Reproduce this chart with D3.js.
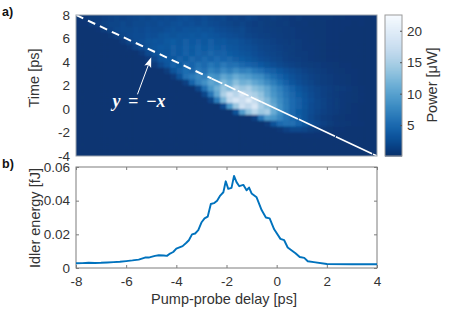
<!DOCTYPE html>
<html>
<head>
<meta charset="utf-8">
<script src="https://cdn.jsdelivr.net/npm/d3@7"></script>
<style>
    html, body { margin: 0; padding: 0; background: #fff; }
    svg { display: block; font-family: "Liberation Sans", sans-serif; }
    .tick text { fill: #333; font-size: 13.5px; }
</style>
</head>
<body>
<div id="chart"></div>
<script>
// Panel a) power in uW, one row per 0.5 ps (top row 7.75 ps), one column per 0.25 ps (first column -7.875 ps)
const heatRows = [
    [.7,.9,1.1,1.2,1.5,1.6,1.8,1.7,1.9,2.0,2.2,2.0,2.4,2.2,2.5,2.3,2.6,2.8,2.5,2.3,2.6,2.2,2.0,2.1,1.7,1.8,1.5,1.9,1.6,1.3,1.2,1.4,1.1,1.0,.9,1.0,.8,.8,.7,.8,.7,.6,.7,.6,.6,.6,.5,.6],
    [.6,.6,1.0,1.3,1.6,1.8,1.8,2.1,1.9,2.2,2.1,2.4,2.2,2.6,2.4,2.7,2.9,2.6,2.8,2.5,2.7,2.4,2.3,2.0,1.9,1.6,1.8,1.5,1.3,1.4,1.2,1.1,1.0,1.1,.9,.8,.9,.7,.7,.7,.6,.6,.6,.6,.5,.6,.5,.5],
    [.5,.5,.5,.6,1.1,1.7,2.0,2.2,2.1,2.4,2.3,2.6,2.5,2.4,2.8,3.0,2.8,3.1,3.0,3.2,2.9,3.0,2.6,2.5,2.2,2.0,2.1,1.7,1.5,1.4,1.3,1.2,1.1,1.0,1.0,.9,.8,.8,.7,.7,.6,.6,.6,.5,.5,.5,.5,.5],
    [.5,.5,.5,.5,.5,.7,1.4,2.0,2.3,2.5,2.4,2.8,2.6,3.0,3.2,3.0,3.4,3.3,3.5,3.3,3.6,3.2,3.1,2.8,2.6,2.4,2.2,1.9,1.7,1.5,1.4,1.3,1.2,1.0,1.0,.9,.9,.8,.7,.7,.6,.6,.5,.5,.5,.5,.5,.5],
    [.5,.5,.5,.5,.5,.5,.5,1.0,1.8,2.4,2.6,3.0,3.2,3.1,3.5,3.8,3.4,4.0,3.6,3.9,3.5,4.0,3.4,3.5,3.0,3.0,2.7,2.4,2.0,1.8,1.7,1.5,1.3,1.2,1.1,1.0,.9,.8,.8,.7,.6,.6,.5,.5,.5,.5,.5,.5],
    [.5,.5,.5,.5,.5,.5,.5,.5,.8,1.6,2.5,3.0,3.2,3.6,3.4,4.0,3.6,4.2,3.8,4.4,3.8,4.2,3.8,3.9,3.4,3.2,2.9,2.7,2.4,2.0,1.9,1.7,1.5,1.3,1.2,1.0,.9,.9,.8,.7,.6,.6,.5,.5,.5,.5,.5,.5],
    [.5,.5,.5,.5,.5,.5,.5,.5,.5,.5,1.0,2.2,3.0,3.5,3.2,4.0,3.6,4.4,3.8,4.6,4.0,4.8,4.2,4.4,3.8,3.6,3.2,3.0,2.6,2.3,2.0,1.8,1.6,1.4,1.2,1.0,1.0,.9,.8,.7,.6,.6,.5,.5,.5,.5,.5,.5],
    [.5,.5,.5,.5,.5,.5,.5,.5,.5,.5,.5,.9,2.0,3.2,3.6,3.4,4.4,3.8,4.8,4.2,5.0,4.4,5.2,4.6,4.8,4.0,3.8,3.4,3.0,2.6,2.4,2.0,1.8,1.5,1.3,1.2,1.0,.9,.8,.7,.6,.6,.5,.5,.5,.5,.5,.5],
    [.5,.5,.5,.5,.5,.5,.5,.5,.5,.5,.5,.5,1.0,2.2,3.2,4.4,3.8,5.0,4.6,5.8,5.0,6.2,5.4,6.4,5.6,5.8,5.0,4.6,4.0,3.6,3.0,2.6,2.2,1.9,1.6,1.4,1.2,1.1,1.0,.9,.8,.7,.6,.6,.5,.5,.5,.5],
    [.5,.5,.5,.5,.5,.5,.5,.5,.5,.5,.5,.5,.5,.5,1.2,3.0,4.2,5.4,4.8,6.4,5.6,7.2,6.4,7.8,6.8,8.0,7.0,7.4,6.2,5.6,4.6,4.0,3.4,2.8,2.4,2.0,1.7,1.4,1.2,1.0,.9,.8,.7,.6,.6,.5,.5,.5],
    [.5,.5,.5,.5,.5,.5,.5,.5,.5,.5,.5,.5,.5,.5,.5,1.0,3.0,5.5,6.5,7.5,7.0,9.0,8.5,10.5,9.5,11.0,10.0,9.5,8.5,8.0,6.5,5.4,4.4,3.6,2.9,2.4,2.0,1.7,1.4,1.2,1.0,.9,.8,.7,.6,.5,.5,.5],
    [.5,.5,.5,.5,.5,.5,.5,.5,.5,.5,.5,.5,.5,.5,.5,.5,.5,1.5,4.5,7.0,8.5,10.5,9.5,12.5,11.0,13.0,11.5,12.0,10.5,9.5,8.0,6.8,5.4,4.2,3.2,2.6,2.1,1.8,1.4,1.2,1.0,.9,.8,.7,.6,.5,.5,.5],
    [.5,.5,.5,.5,.5,.5,.5,.5,.5,.5,.5,.5,.5,.5,.5,.5,.5,.5,.5,2.0,5.5,9.0,11.5,14.0,12.5,15.5,14.0,15.0,13.0,12.0,10.5,8.5,7.0,5.6,4.4,3.4,2.7,2.2,1.8,1.5,1.3,1.1,1.0,.9,.7,.6,.5,.5],
    [.5,.5,.5,.5,.5,.5,.5,.5,.5,.5,.5,.5,.5,.5,.5,.5,.5,.5,.5,.5,2.0,6.0,10.5,15.0,18.0,16.0,18.5,16.0,15.0,13.5,11.0,9.0,7.5,6.0,4.8,3.8,3.0,2.4,1.9,1.5,1.2,1.0,.9,.8,.7,.6,.5,.5],
    [.5,.5,.5,.5,.5,.5,.5,.5,.5,.5,.5,.5,.5,.5,.5,.5,.5,.5,.5,.5,.5,1.8,6.5,12.0,17.0,19.0,17.5,20.0,17.0,14.5,12.5,10.0,8.0,6.5,5.2,4.2,3.3,2.6,2.0,1.6,1.3,1.1,.9,.8,.7,.6,.5,.5],
    [.5,.5,.5,.5,.5,.5,.5,.5,.5,.5,.5,.5,.5,.5,.5,.5,.5,.5,.5,.5,.5,.5,.5,2.5,9.0,14.0,18.0,16.5,19.0,15.0,13.0,11.0,8.5,6.6,5.2,4.2,3.2,2.5,2.0,1.6,1.3,1.1,.9,.7,.6,.5,.5,.5],
    [.5,.5,.5,.5,.5,.5,.5,.5,.5,.5,.5,.5,.5,.5,.5,.5,.5,.5,.5,.5,.5,.5,.5,.5,.5,3.0,9.5,13.5,16.0,14.0,15.0,11.0,8.5,6.5,5.0,3.8,3.0,2.4,1.9,1.5,1.2,1.0,.8,.7,.6,.5,.5,.5],
    [.5,.5,.5,.5,.5,.5,.5,.5,.5,.5,.5,.5,.5,.5,.5,.5,.5,.5,.5,.5,.5,.5,.5,.5,.5,.5,.5,.5,1.5,6.0,9.5,9.0,7.5,6.0,5.0,4.0,3.0,2.2,1.6,1.2,1.0,.8,.7,.6,.6,.5,.5,.5],
    [.5,.5,.5,.5,.5,.5,.5,.5,.5,.5,.5,.5,.5,.5,.5,.5,.5,.5,.5,.5,.5,.5,.5,.5,.5,.5,.5,.5,.5,.5,1.0,3.0,5.0,5.5,5.5,4.5,3.5,2.6,2.0,1.5,1.1,.9,.8,.7,.6,.6,.5,.5],
    [.5,.5,.5,.5,.5,.5,.5,.5,.5,.5,.5,.5,.5,.5,.5,.5,.5,.5,.5,.5,.5,.5,.5,.5,.5,.5,.5,.5,.5,.5,.5,.5,.8,1.5,2.0,2.0,1.8,1.4,1.1,.8,.7,.6,.6,.5,.5,.5,.5,.5],
    [.5,.5,.5,.5,.5,.5,.5,.5,.5,.5,.5,.5,.5,.5,.5,.5,.5,.5,.5,.5,.5,.5,.5,.5,.5,.5,.5,.5,.5,.5,.5,.5,.5,.5,.5,.5,.6,.6,.6,.5,.5,.5,.5,.5,.5,.5,.5,.5],
    [.5,.5,.5,.5,.5,.5,.5,.5,.5,.5,.5,.5,.5,.5,.5,.5,.5,.5,.5,.5,.5,.5,.5,.5,.5,.5,.5,.5,.5,.5,.5,.5,.5,.5,.5,.5,.5,.5,.5,.5,.5,.5,.5,.5,.5,.5,.5,.5],
    [.5,.5,.5,.5,.5,.5,.5,.5,.5,.5,.5,.5,.5,.5,.5,.5,.5,.5,.5,.5,.5,.5,.5,.5,.5,.5,.5,.5,.5,.5,.5,.5,.5,.5,.5,.5,.5,.5,.5,.5,.5,.5,.5,.5,.5,.5,.5,.5],
    [.5,.5,.5,.5,.5,.5,.5,.5,.5,.5,.5,.5,.5,.5,.5,.5,.5,.5,.5,.5,.5,.5,.5,.5,.5,.5,.5,.5,.5,.5,.5,.5,.5,.5,.5,.5,.5,.5,.5,.5,.5,.5,.5,.5,.5,.5,.5,.5]
];

// Panel b) idler energy curve
const delays = [-8,-7.75,-7.5,-7.25,-7,-6.75,-6.5,-6.25,-6,-5.75,-5.5,-5.25,-5.1,-5,-4.85,-4.7,-4.5,-4.375,-4.25,-4.125,-4,-3.75,-3.6,-3.5,-3.375,-3.25,-3.125,-3,-2.875,-2.75,-2.625,-2.5,-2.375,-2.25,-2.125,-2.03,-1.93,-1.8,-1.7,-1.6,-1.49,-1.33,-1.2,-1.1,-1,-.8,-.6,-.43,-.28,-.1,.15,.3,.44,.75,.92,1.1,1.24,1.48,2,3,4];
const idlerEnergy = [.0028,.0029,.0031,.003,.0031,.0033,.0035,.0037,.0041,.0045,.005,.0062,.0062,.0066,.0072,.0076,.0074,.0072,.0086,.0095,.0115,.013,.015,.0165,.02,.0205,.0225,.027,.0295,.0305,.038,.0385,.040,.043,.045,.0515,.047,.0476,.0547,.051,.0486,.0494,.0462,.0478,.0443,.042,.0344,.030,.0295,.023,.0173,.0165,.0122,.0088,.0065,.006,.004,.0035,.0024,.0022,.0022];

const heatTimeTicks = [8, 6, 4, 2, 0, -2, -4];
const delayTicks = [-8, -6, -4, -2, 0, 2, 4];
const energyTicks = [0, 0.02, 0.04, 0.06];
const powerTicks = [5, 10, 15, 20];

const width = 463, height = 309;
const plotLeft = 76, plotRight = 377;
const heatTop = 15, heatBottom = 156;
const lineTop = 167, lineBottom = 268;
const barLeft = 385, barRight = 402;
const axisColor = '#7d7d7d';

const svg = d3.select('#chart').append('svg')
    .attr('width', width)
    .attr('height', height)
    .attr('viewBox', [0, 0, width, height]);

const x = d3.scaleLinear().domain([-8, 4]).range([plotLeft, plotRight]);
const yTime = d3.scaleLinear().domain([-4, 8]).range([heatBottom, heatTop]);
const yEnergy = d3.scaleLinear().domain([0, 0.06]).range([lineBottom, lineTop]);
const yPower = d3.scaleLinear().domain([0.1, 22.5]).range([heatBottom, heatTop]);
const color = v => d3.interpolateBlues(1 - (v - 0.1) / 22.4);

const cellX = d3.scaleBand().domain(d3.range(heatRows[0].length)).range([plotLeft, plotRight]);
const cellY = d3.scaleBand().domain(d3.range(heatRows.length)).range([heatTop, heatBottom]);

const defs = svg.append('defs');
defs.append('clipPath').attr('id', 'heat-clip').append('rect')
    .attr('x', plotLeft).attr('y', heatTop)
    .attr('width', plotRight - plotLeft).attr('height', heatBottom - heatTop);
defs.append('filter').attr('id', 'soft')
    .attr('x', '-5%').attr('y', '-5%').attr('width', '110%').attr('height', '110%')
    .append('feGaussianBlur').attr('stdDeviation', 0.9);

// Heat map
const heat = svg.append('g').attr('clip-path', 'url(#heat-clip)');
heat.append('rect')
    .attr('x', plotLeft - 10).attr('y', heatTop - 10)
    .attr('width', plotRight - plotLeft + 20).attr('height', heatBottom - heatTop + 20)
    .attr('fill', color(0.5));
heat.append('g').attr('filter', 'url(#soft)')
    .selectAll('g')
    .data(heatRows)
    .join('g')
    .attr('transform', (d, i) => `translate(0,${cellY(i)})`)
    .selectAll('rect')
    .data(d => d)
    .join('rect')
    .attr('x', (d, i) => cellX(i))
    .attr('width', cellX.bandwidth() + 0.5)
    .attr('height', cellY.bandwidth() + 0.5)
    .attr('fill', d => color(d));

// y = -x guide, dashes close up towards the right
const guideParts = [
    {from: -8, to: -2.6, dash: '8 5.2', w: 2},
    {from: -2.6, to: -0.6, dash: '12 2.5', w: 1.7},
    {from: -0.6, to: 4, dash: '40 1', w: 1.6}
];
heat.selectAll('.guide')
    .data(guideParts)
    .join('line')
    .attr('class', 'guide')
    .attr('x1', d => x(d.from)).attr('y1', d => yTime(-d.from))
    .attr('x2', d => x(d.to)).attr('y2', d => yTime(-d.to))
    .attr('stroke', '#fff')
    .attr('stroke-width', d => d.w)
    .attr('stroke-dasharray', d => d.dash);

// Arrow and label
const arrowFrom = {t: 1.25, d: -5.55}, arrowTo = {t: 4.4, d: -5.0};
const ax0 = x(arrowFrom.d), ay0 = yTime(arrowFrom.t), ax1 = x(arrowTo.d), ay1 = yTime(arrowTo.t);
const arrowLen = Math.hypot(ax1 - ax0, ay1 - ay0);
const ux = (ax1 - ax0) / arrowLen, uy = (ay1 - ay0) / arrowLen;
svg.append('line')
    .attr('x1', ax0).attr('y1', ay0)
    .attr('x2', ax1 - 8 * ux).attr('y2', ay1 - 8 * uy)
    .attr('stroke', '#fff').attr('stroke-width', 1);
svg.append('path')
    .attr('d', d3.line()([
        [ax1, ay1],
        [ax1 - 10 * ux - 3.6 * uy, ay1 - 10 * uy + 3.6 * ux],
        [ax1 - 8 * ux, ay1 - 8 * uy],
        [ax1 - 10 * ux + 3.6 * uy, ay1 - 10 * uy - 3.6 * ux]
    ]) + 'Z')
    .attr('fill', '#fff');
svg.append('text')
    .attr('x', 139).attr('y', 107)
    .attr('text-anchor', 'middle')
    .attr('fill', '#fff')
    .style('font-family', '"Liberation Serif", serif')
    .style('font-size', '18px')
    .style('font-style', 'italic')
    .style('font-weight', 'bold')
    .style('word-spacing', '3px')
    .text('y = \u2212x');

// Heat map frame and labels
svg.append('rect')
    .attr('x', plotLeft).attr('y', heatTop)
    .attr('width', plotRight - plotLeft).attr('height', heatBottom - heatTop)
    .attr('fill', 'none').attr('stroke', '#9aa3ad').attr('stroke-width', 1);
svg.append('g')
    .attr('transform', `translate(${plotLeft},0)`)
    .call(d3.axisLeft(yTime).tickValues(heatTimeTicks).tickFormat(String).tickSize(0).tickPadding(6))
    .call(g => g.select('.domain').remove());

// Colour bar
const barLevels = d3.range(0, 141);
svg.append('g').selectAll('rect')
    .data(barLevels)
    .join('rect')
    .attr('x', barLeft)
    .attr('y', d => heatBottom - d - 1)
    .attr('width', barRight - barLeft)
    .attr('height', 1.5)
    .attr('fill', d => color(yPower.invert(heatBottom - d)));
svg.append('rect')
    .attr('x', barLeft).attr('y', heatTop)
    .attr('width', barRight - barLeft).attr('height', heatBottom - heatTop)
    .attr('fill', 'none').attr('stroke', '#9a9a9a').attr('stroke-width', 1);
svg.append('g')
    .attr('transform', `translate(${barRight},0)`)
    .call(d3.axisRight(yPower).tickValues(powerTicks).tickSizeInner(-2).tickSizeOuter(0).tickPadding(5))
    .call(g => g.select('.domain').remove())
    .call(g => g.selectAll('line').attr('stroke', '#555'));

// Idler energy panel
svg.append('rect')
    .attr('x', plotLeft).attr('y', lineTop)
    .attr('width', plotRight - plotLeft).attr('height', lineBottom - lineTop)
    .attr('fill', 'none').attr('stroke', axisColor).attr('stroke-width', 1);
const energyFormat = d => d === 0 ? '0' : d3.format('.2f')(d);
svg.append('g')
    .attr('transform', `translate(0,${lineBottom})`)
    .call(d3.axisBottom(x).tickValues(delayTicks).tickFormat(String).tickSizeInner(-3).tickSizeOuter(0).tickPadding(8))
    .call(g => g.select('.domain').remove())
    .call(g => g.selectAll('line').attr('stroke', axisColor));
svg.append('g')
    .attr('transform', `translate(0,${lineTop})`)
    .call(d3.axisTop(x).tickValues(delayTicks).tickFormat('').tickSizeInner(-3).tickSizeOuter(0))
    .call(g => g.select('.domain').remove())
    .call(g => g.selectAll('line').attr('stroke', axisColor));
svg.append('g')
    .attr('transform', `translate(${plotLeft},0)`)
    .call(d3.axisLeft(yEnergy).tickValues(energyTicks).tickFormat(energyFormat).tickSizeInner(-3).tickSizeOuter(0).tickPadding(6))
    .call(g => g.select('.domain').remove())
    .call(g => g.selectAll('line').attr('stroke', axisColor));
svg.append('g')
    .attr('transform', `translate(${plotRight},0)`)
    .call(d3.axisRight(yEnergy).tickValues(energyTicks).tickFormat('').tickSizeInner(-3).tickSizeOuter(0))
    .call(g => g.select('.domain').remove())
    .call(g => g.selectAll('line').attr('stroke', axisColor));

const energyLine = d3.line()
    .x((d, i) => x(delays[i]))
    .y(d => yEnergy(d));
svg.append('path')
    .datum(idlerEnergy)
    .attr('fill', 'none')
    .attr('stroke', '#0072bd')
    .attr('stroke-width', 1.9)
    .attr('stroke-linejoin', 'round')
    .attr('d', energyLine);

// Titles
const addLabel = (txt, px, py, rotate, opts = {}) => {
    svg.append('text')
        .attr('transform', `translate(${px},${py})` + (rotate ? ' rotate(-90)' : ''))
        .attr('text-anchor', opts.anchor || 'middle')
        .attr('fill', opts.fill || '#333')
        .style('font-size', (opts.size || 14.5) + 'px')
        .style('font-weight', opts.weight || 'normal')
        .text(txt);
};
addLabel('Time [ps]', 39, 78, true);
addLabel('Idler energy [fJ]', 40, 218, true);
addLabel('Pump-probe delay [ps]', 224, 304, false);
addLabel('Power [\u03bcW]', 437, 85, true);
addLabel('a)', 2, 16, false, {anchor: 'start', weight: 'bold', fill: '#111', size: 12.5});
addLabel('b)', 2, 168, false, {anchor: 'start', weight: 'bold', fill: '#111', size: 12.5});
</script>
</body>
</html>
